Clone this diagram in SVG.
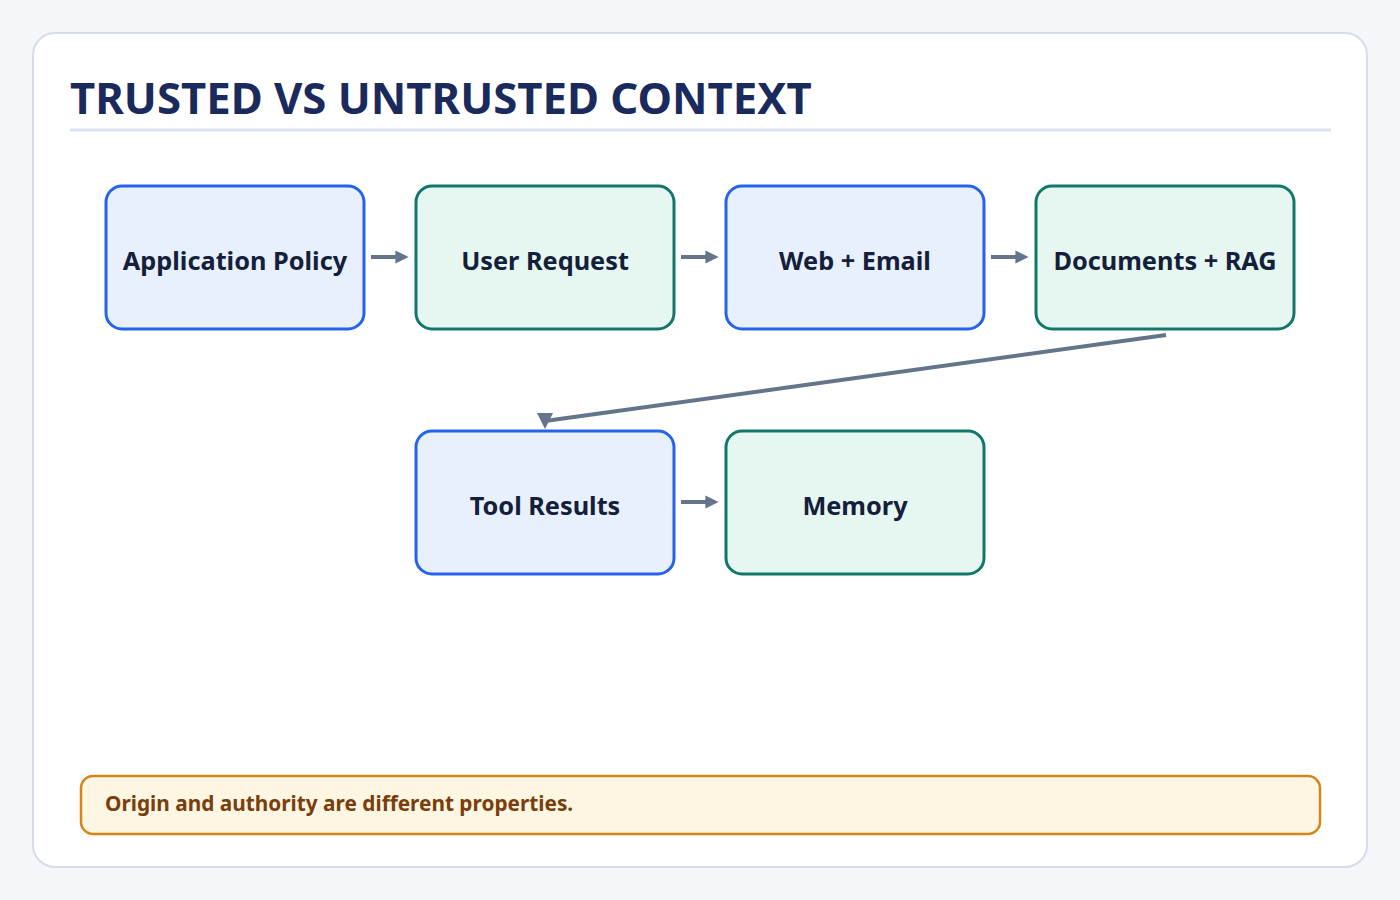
<svg xmlns="http://www.w3.org/2000/svg" width="1400" height="900" viewBox="0 0 1400 900">
<style>
text{font-family:"Noto Sans","Open Sans","Liberation Sans",sans-serif;font-weight:bold}
.b{fill:#e8effd;stroke:#2563eb;stroke-width:3}
.t{fill:#e6f6f1;stroke:#12766a;stroke-width:3}
.l{font-size:25.3px;fill:#14203a;text-anchor:middle}
.c{stroke:#64748b;stroke-width:4;fill:none}
</style>
<defs>
<marker id="a" viewBox="0 0 10 10" refX="5" refY="5" markerWidth="3.3" markerHeight="3.3" orient="auto" markerUnits="strokeWidth"><path d="M0,0L10,5L0,10z" fill="#64748b"/></marker>
<marker id="d" viewBox="0 0 10 10" refX="5" refY="5" markerWidth="4" markerHeight="4.5" orient="90" markerUnits="strokeWidth"><path d="M0,0L10,5L0,10z" fill="#64748b"/></marker>
</defs>
<rect width="1400" height="900" fill="#f4f6fa"/>
<rect x="33" y="33" width="1334" height="834" rx="22" fill="#fff" stroke="#d6dce8" stroke-width="2"/>
<text x="70" y="114" font-size="43.7" fill="#1a2a5c">TRUSTED VS UNTRUSTED CONTEXT</text>
<line x1="70" y1="130" x2="1331" y2="130" stroke="#dbe2ec" stroke-width="3"/>
<g id="connectors">
<line class="c" x1="371" y1="257" x2="402" y2="257" marker-end="url(#a)"/>
<line class="c" x1="681" y1="257" x2="712" y2="257" marker-end="url(#a)"/>
<line class="c" x1="991" y1="257" x2="1022" y2="257" marker-end="url(#a)"/>
<line class="c" x1="681" y1="502" x2="712" y2="502" marker-end="url(#a)"/>
<line class="c" x1="1166" y1="335" x2="545" y2="421" stroke-width="3.5" marker-end="url(#d)"/>
</g>
<g id="n1"><rect class="b" x="106" y="186" width="258" height="143" rx="16"/><text class="l" x="235" y="270">Application Policy</text></g>
<g id="n2"><rect class="t" x="416" y="186" width="258" height="143" rx="16"/><text class="l" x="545" y="270">User Request</text></g>
<g id="n3"><rect class="b" x="726" y="186" width="258" height="143" rx="16"/><text class="l" x="855" y="270">Web + Email</text></g>
<g id="n4"><rect class="t" x="1036" y="186" width="258" height="143" rx="16"/><text class="l" x="1165" y="270">Documents + RAG</text></g>
<g id="n5"><rect class="b" x="416" y="431" width="258" height="143" rx="16"/><text class="l" x="545" y="515">Tool Results</text></g>
<g id="n6"><rect class="t" x="726" y="431" width="258" height="143" rx="16"/><text class="l" x="855" y="515">Memory</text></g>
<g id="note"><rect x="81" y="776" width="1239" height="58" rx="12" fill="#fdf6e3" stroke="#d4861a" stroke-width="2.5"/><text x="105" y="811" font-size="20.8" fill="#7a3e0c">Origin and authority are different properties.</text></g>
</svg>
